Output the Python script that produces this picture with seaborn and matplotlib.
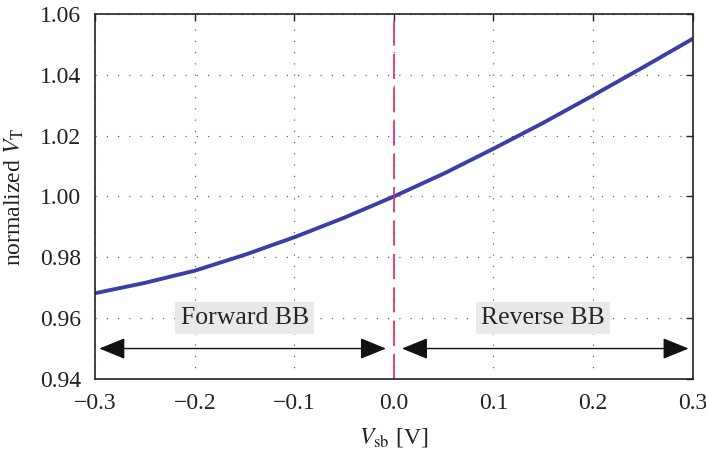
import numpy as np
import pandas as pd
import seaborn as sns
import matplotlib
matplotlib.use("Agg")
import matplotlib.pyplot as plt

# Normalized threshold voltage vs. source-body bias
vsb = [-0.30, -0.25, -0.20, -0.15, -0.10, -0.05, 0.00, 0.05, 0.10, 0.15, 0.20, 0.25, 0.30]
vt_norm = [0.9682, 0.9716, 0.9756, 0.9808, 0.9866, 0.9930, 1.0000, 1.0075, 1.0157, 1.0242, 1.0332, 1.0424, 1.0518]

x_ticks = [-0.3, -0.2, -0.1, 0.0, 0.1, 0.2, 0.3]
x_tick_labels = ["\u22120.3", "\u22120.2", "\u22120.1", "0.0", "0.1", "0.2", "0.3"]
y_ticks = [0.94, 0.96, 0.98, 1.00, 1.02, 1.04, 1.06]
y_tick_labels = ["0.94", "0.96", "0.98", "1.00", "1.02", "1.04", "1.06"]

region_labels = ["Forward BB", "Reverse BB"]
region_centers = [-0.15, 0.15]
region_spans = [(-0.296, -0.008), (0.008, 0.296)]
arrow_level = 0.95
label_level = 0.96

sns.set_theme(style="white")
plt.rcParams["font.family"] = ["Liberation Serif", "DejaVu Serif"]
plt.rcParams["mathtext.fontset"] = "stix"

fig, ax = plt.subplots(figsize=(7.06, 4.49), dpi=100)
fig.subplots_adjust(left=0.135, right=0.981, top=0.969, bottom=0.156)

df = pd.DataFrame({"vsb": vsb, "vt": vt_norm})
sns.lineplot(data=df, x="vsb", y="vt", ax=ax, color="#3a3fa6", linewidth=2.8)

ax.axvline(0.0, color="#e0246c", linewidth=1.2, dashes=(15, 5))

for (x0, x1), lbl, cx in zip(region_spans, region_labels, region_centers):
    ax.annotate("", xy=(x0, arrow_level), xytext=(x1, arrow_level),
                arrowprops=dict(arrowstyle="<|-|>,head_length=1.35,head_width=0.55",
                                color="#111111", linewidth=1.0,
                                shrinkA=0, shrinkB=0))
    ax.text(cx, label_level, lbl, ha="center", va="center", fontsize=18.5,
            bbox=dict(boxstyle="square,pad=0.2", facecolor="#e8e9e9", edgecolor="none"))

ax.set_xlim(-0.3, 0.3)
ax.set_ylim(0.94, 1.06)
ax.set_xticks(x_ticks)
ax.set_xticklabels(x_tick_labels)
ax.set_yticks(y_ticks)
ax.set_yticklabels(y_tick_labels)
ax.tick_params(direction="in", length=5, width=1, labelsize=17, colors="#222222",
               top=True, right=True, pad=10)
ax.grid(True, linestyle=(0, (1, 8)), color="#666666", linewidth=0.9)

for s in ax.spines.values():
    s.set_color("#222222")
    s.set_linewidth(1.2)

ax.set_xlabel(r"$V_{\mathrm{sb}}$ [V]", fontsize=17, color="#222222", labelpad=9)
ax.set_ylabel(r"normalized $V_{\mathrm{T}}$", fontsize=17, color="#222222", labelpad=10)

fig.savefig("out.png", dpi=100)
